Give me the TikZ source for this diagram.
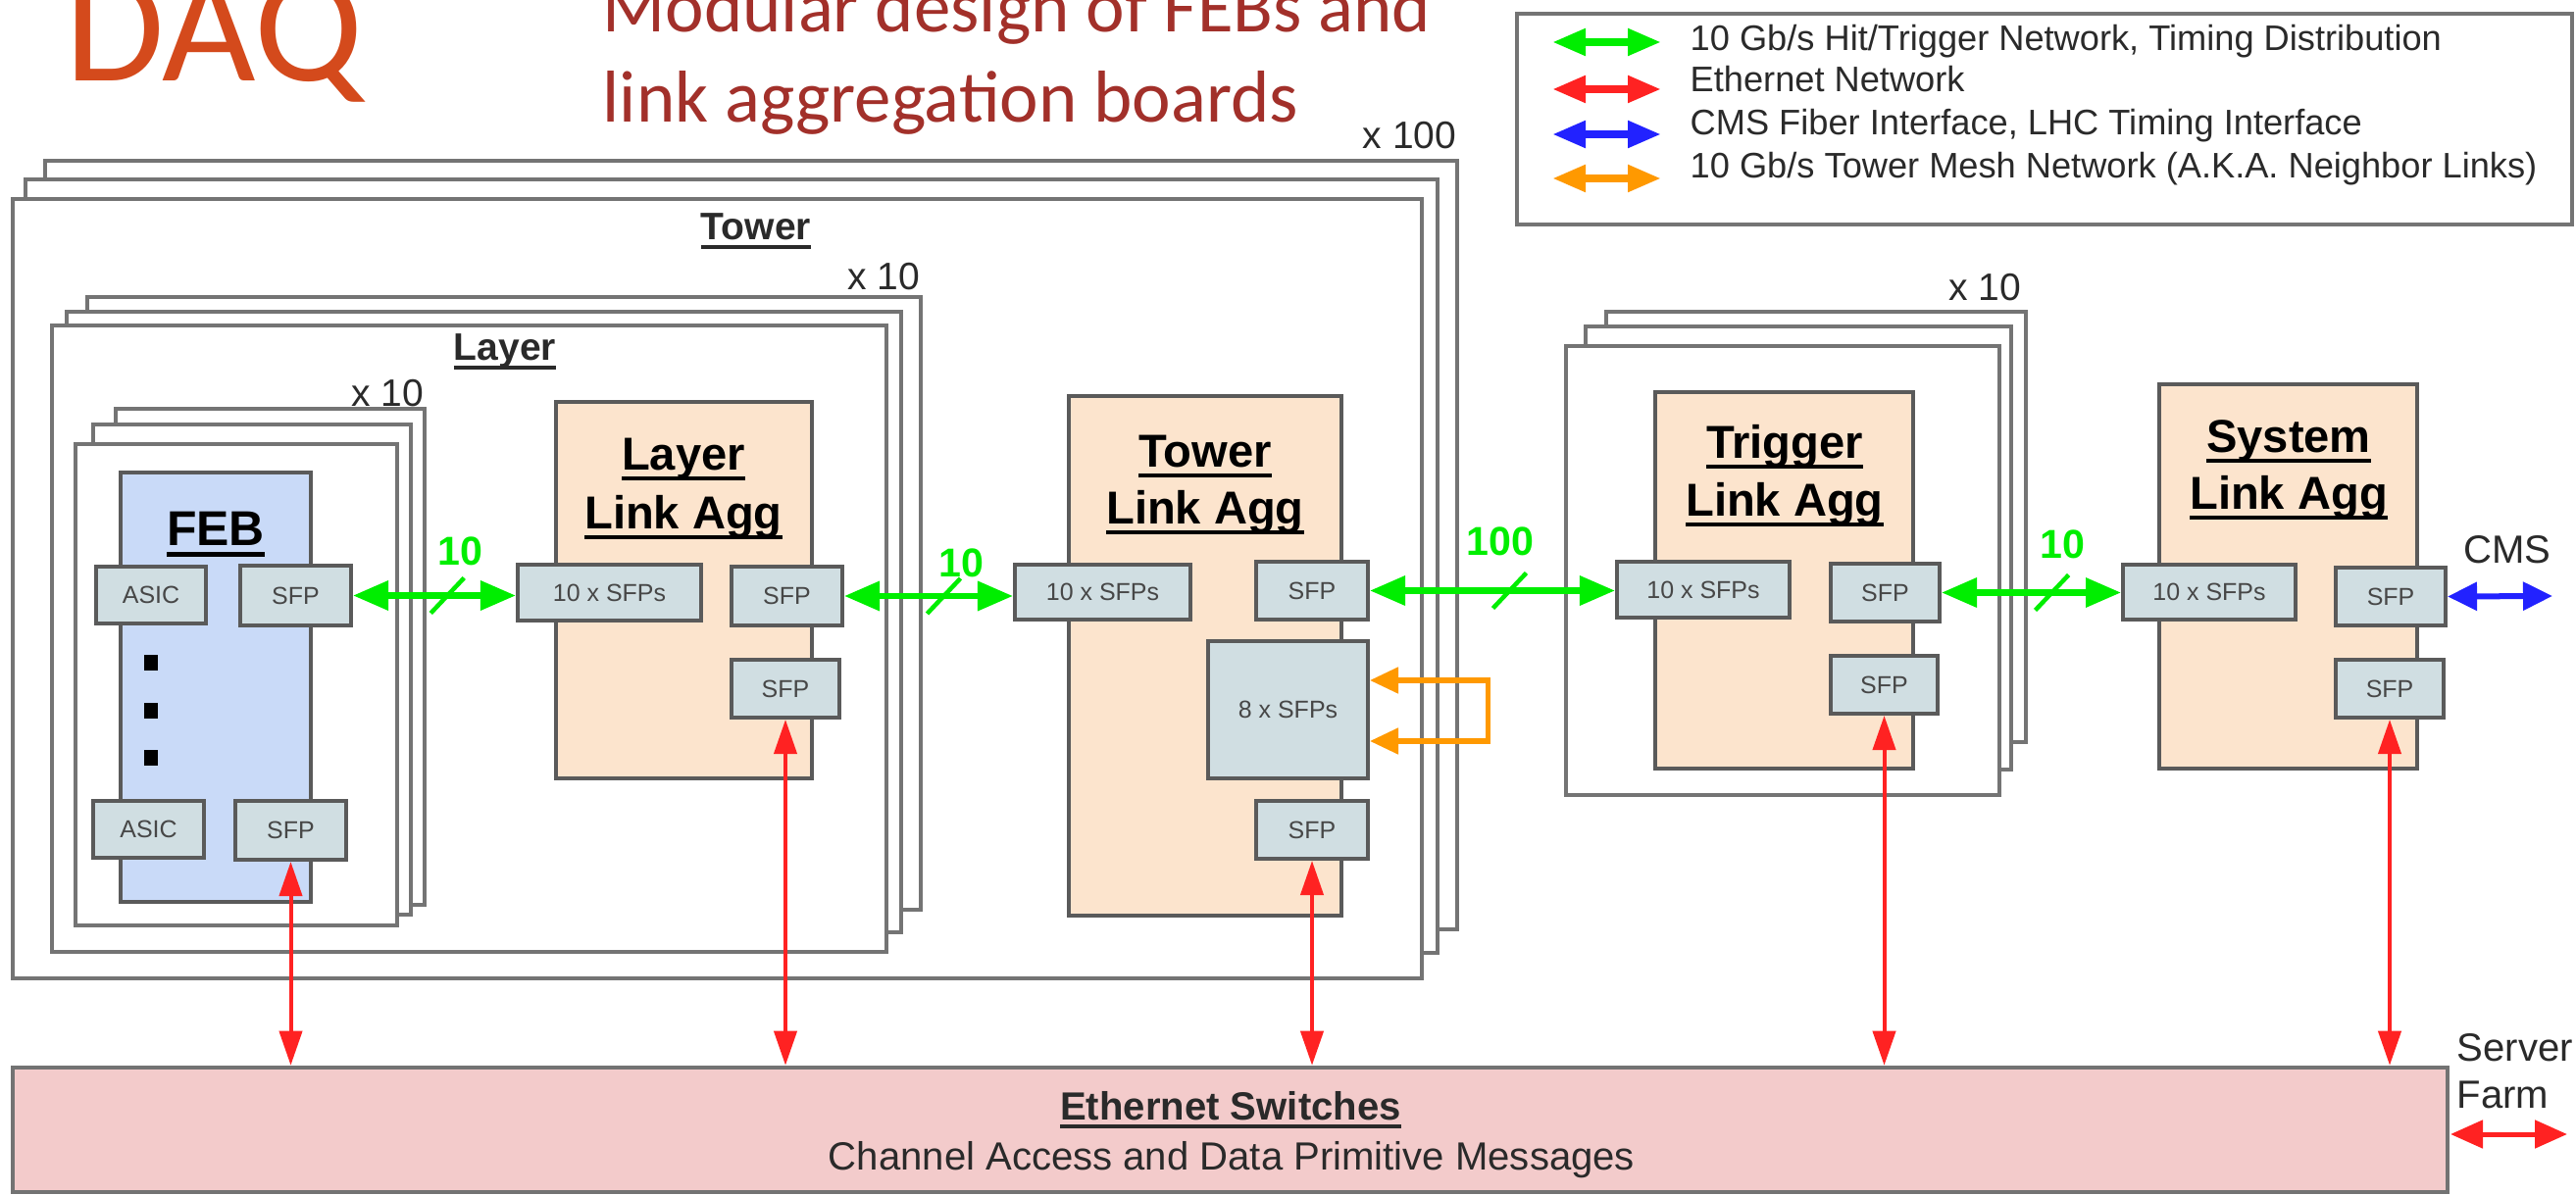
\documentclass[tikz,border=0pt]{standalone}
\usepackage{fontspec}
\setmainfont{Liberation Sans}
\newfontfamily\calib{Carlito}
\usetikzlibrary{arrows.meta,fit,calc}
\definecolor{daqorange}{HTML}{D44A1C}
\definecolor{titlered}{HTML}{A2302A}
\definecolor{lgreen}{HTML}{00EE00}
\definecolor{lred}{HTML}{FF2222}
\definecolor{lblue}{HTML}{2222FF}
\definecolor{lorange}{HTML}{FF9900}
\definecolor{aggfill}{HTML}{FCE4CD}
\definecolor{febfill}{HTML}{C9DAF8}
\definecolor{sfpfill}{HTML}{D0DEE2}
\definecolor{ethfill}{HTML}{F3CBCB}
\definecolor{framegray}{HTML}{747474}
\definecolor{boxgray}{HTML}{5A5A5A}
\definecolor{txtgray}{HTML}{2A2A2A}
\newcommand\ulb[1]{\setbox0\hbox{#1}\rlap{\rule[-0.22em]{\wd0}{0.09em}}\box0}
\tikzset{
  frm/.style={draw=framegray, line width=0.045cm, fill=white, inner sep=0pt},
  aggbox/.style={draw=boxgray, line width=0.04cm, fill=aggfill, inner sep=0pt},
  febbox/.style={draw=boxgray, line width=0.04cm, fill=febfill, inner sep=0pt},
  sfptext/.style={text=black!72, font=\fontsize{7.1}{8.5}\selectfont, inner sep=0pt},
  sfpbox/.style={draw=boxgray, line width=0.04cm, fill=sfpfill, inner sep=0pt, label={[sfptext]center:#1}},
  ethbox/.style={draw=boxgray!85, line width=0.045cm, fill=ethfill, inner sep=0pt},
  mult/.style={anchor=base east, text=txtgray, font=\fontsize{11.1}{13}\selectfont, inner sep=0pt},
  grouplbl/.style={anchor=base, text=txtgray, font=\bfseries\fontsize{11.1}{13}\selectfont, inner sep=0pt},
  aggtitle/.style={anchor=base, text=black, font=\bfseries\fontsize{13.4}{16}\selectfont, inner sep=0pt},
  numlbl/.style={anchor=base, text=lgreen, font=\bfseries\fontsize{11.7}{14}\selectfont, inner sep=0pt},
  plain/.style={text=txtgray, font=\fontsize{11.4}{13.5}\selectfont, inner sep=0pt},
  legtext/.style={anchor=base west, text=txtgray, font=\fontsize{10.3}{12}\selectfont, inner sep=0pt},
  garrow/.style={draw=lgreen, line width=0.065cm, >={Triangle[length=0.36cm,width=0.29cm]}, <->},
  gslash/.style={draw=lgreen, line width=0.045cm},
  rarrow/.style={draw=lred, line width=0.04cm, >={Triangle[length=0.35cm,width=0.23cm]}, <->},
  barrow/.style={draw=lblue, line width=0.06cm, >={Triangle[length=0.30cm,width=0.28cm]}, <->},
  oarrow/.style={draw=lorange, line width=0.05cm, >={Triangle[length=0.29cm,width=0.26cm]}, <->},
  legarrow/.style={line width=0.08cm, >={Triangle[length=0.34cm,width=0.26cm]}, <->},
  dot/.style={fill=black, minimum width=0.14cm, minimum height=0.16cm, inner sep=0pt}
}
\begin{document}
\begin{tikzpicture}[x=0.01cm, y=-0.01cm]
\useasboundingbox (0,0) rectangle (2627,1219);
\clip (0,0) rectangle (2627,1219);
\fill[white] (0,0) rectangle (2627,1219);

% titles
\node[anchor=base west, inner sep=0pt, text=daqorange, font=\calib\fontsize{46.9}{50}\selectfont] (daq) at (66,83) {DAQ};
\node[anchor=base west, inner sep=0pt, text=titlered, font=\calib\fontsize{21.3}{26}\selectfont] (title1) at (614,33) {Modular design of FEBs and};
\node[anchor=base west, inner sep=0pt, text=titlered, font=\calib\fontsize{21.3}{26}\selectfont] (title2) at (614,125) {link aggregation boards};

% legend
\node[draw=framegray, line width=0.045cm, fill=white, inner sep=0pt, fit={(1547,14) (2623,229)}] (legend) {};
\coordinate (lg1a) at (1583,43);  \coordinate (lg1b) at (1694,43);
\coordinate (lg2a) at (1583,91);  \coordinate (lg2b) at (1694,91);
\coordinate (lg3a) at (1583,137); \coordinate (lg3b) at (1694,137);
\coordinate (lg4a) at (1583,182); \coordinate (lg4b) at (1694,182);
\draw[legarrow, draw=lgreen, fill=lgreen] (lg1a) -- (lg1b);
\draw[legarrow, draw=lred, fill=lred] (lg2a) -- (lg2b);
\draw[legarrow, draw=lblue, fill=lblue] (lg3a) -- (lg3b);
\draw[legarrow, draw=lorange, fill=lorange] (lg4a) -- (lg4b);
\node[legtext] (lt1) at (1723,52) {10 Gb/s Hit/Trigger Network, Timing Distribution};
\node[legtext] (lt2) at (1723,94) {Ethernet Network};
\node[legtext] (lt3) at (1723,138) {CMS Fiber Interface, LHC Timing Interface};
\node[legtext] (lt4) at (1723,182) {10 Gb/s Tower Mesh Network (A.K.A. Neighbor Links)};

% tower stack
\node[frm, fit={(46,164) (1486,948)}] (towback) {};
\node[frm, fit={(26,183) (1466,972)}] (towmid) {};
\node[frm, fit={(13,203) (1450,998)}] (towfront) {};
\node[mult] (towx) at (1486,152) {x 100};
\node[grouplbl] (towlbl) at (771,245) {\ulb{Tower}};

% layer stack
\node[frm, fit={(89,303) (939,928)}] (layback) {};
\node[frm, fit={(68,318) (919,951)}] (laymid) {};
\node[frm, fit={(53,332) (904,971)}] (layfront) {};
\node[mult] (layx) at (939,296) {x 10};
\node[grouplbl] (laylbl) at (515,368) {\ulb{Layer}};

% FEB stack
\node[frm, fit={(118,417) (433,923)}] (febback) {};
\node[frm, fit={(95,433) (419,933)}] (febmid) {};
\node[frm, fit={(77,453) (405,944)}] (febfront) {};
\node[mult] (febx) at (433,415) {x 10};
\node[febbox, fit={(123,482) (317,920)}] (feb) {};
\node[anchor=base, inner sep=0pt, font=\bfseries\fontsize{14.2}{17}\selectfont] (feblbl) at (220,557) {\ulb{FEB}};
\node[sfpbox=ASIC, fit={(98,578) (210,636)}] (asic1) {};
\node[sfpbox=SFP, fit={(245,577) (358,638)}] (febsfp1) {};
\node[dot] (d1) at (154,676) {};
\node[dot] (d2) at (154,725) {};
\node[dot] (d3) at (154,773) {};
\node[sfpbox=ASIC, fit={(95,817) (208,875)}] (asic2) {};
\node[sfpbox=SFP, fit={(240,817) (353,877)}] (febsfp2) {};

% layer link agg
\node[aggbox, fit={(567,410) (828,794)}] (lla) {};
\node[aggtitle] (llat1) at (697,480) {\ulb{Layer}};
\node[aggtitle] (llat2) at (697,540) {\ulb{Link Agg}};
\node[sfpbox={10 x SFPs}, fit={(528,576) (715,633)}] (lsfps) {};
\node[sfpbox=SFP, fit={(746,578) (859,638)}] (lsfp1) {};
\node[sfpbox=SFP, fit={(746,673) (856,732)}] (lsfp2) {};

% tower link agg
\node[aggbox, fit={(1090,404) (1368,934)}] (tla) {};
\node[aggtitle] (tlat1) at (1229,477) {\ulb{Tower}};
\node[aggtitle] (tlat2) at (1229,535) {\ulb{Link Agg}};
\node[sfpbox={10 x SFPs}, fit={(1035,576) (1214,632)}] (tsfps) {};
\node[sfpbox=SFP, fit={(1281,573) (1395,632)}] (tsfp1) {};
\node[sfpbox={8 x SFPs}, fit={(1232,654) (1395,794)}] (t8) {};
\node[sfpbox=SFP, fit={(1281,817) (1395,876)}] (tsfp2) {};

% trigger stack
\node[frm, fit={(1638,318) (2066,757)}] (trigback) {};
\node[frm, fit={(1617,333) (2051,785)}] (trigmid) {};
\node[frm, fit={(1597,353) (2039,811)}] (trigfront) {};
\node[mult] (trigx) at (2062,307) {x 10};
\node[aggbox, fit={(1688,400) (1951,784)}] (gla) {};
\node[aggtitle] (glat1) at (1820,468) {\ulb{Trigger}};
\node[aggtitle] (glat2) at (1820,527) {\ulb{Link Agg}};
\node[sfpbox={10 x SFPs}, fit={(1649,573) (1825,630)}] (gsfps) {};
\node[sfpbox=SFP, fit={(1867,575) (1978,634)}] (gsfp1) {};
\node[sfpbox=SFP, fit={(1867,669) (1976,728)}] (gsfp2) {};

% system link agg
\node[aggbox, fit={(2202,392) (2465,784)}] (sla) {};
\node[aggtitle] (slat1) at (2334,462) {\ulb{System}};
\node[aggtitle] (slat2) at (2334,520) {\ulb{Link Agg}};
\node[sfpbox={10 x SFPs}, fit={(2165,576) (2341,632)}] (ssfps) {};
\node[sfpbox=SFP, fit={(2382,579) (2494,638)}] (ssfp1) {};
\node[sfpbox=SFP, fit={(2382,673) (2492,732)}] (ssfp2) {};

% ethernet
\node[ethbox, fit={(13,1089) (2496,1216)}] (eth) {};
\node[plain, anchor=base, font=\bfseries\fontsize{11.4}{13.5}\selectfont] (etht1) at (1255,1142) {\ulb{Ethernet Switches}};
\node[plain, anchor=base] (etht2) at (1256,1193) {Channel Access and Data Primitive Messages};

% green links
\draw[garrow] (febsfp1.east) -- coordinate[pos=0.58] (s1) (febsfp1.east -| lsfps.west);
\draw[garrow] (lsfp1.east) -- coordinate[pos=0.59] (s2) (lsfp1.east -| tsfps.west);
\draw[garrow] (tsfp1.east) -- coordinate[pos=0.57] (s3) (tsfp1.east -| gsfps.west);
\draw[garrow] (gsfp1.east) -- coordinate[pos=0.615] (s4) (gsfp1.east -| ssfps.west);
\draw[gslash] ($(s1)+(-17,18)$) -- ($(s1)+(17,-18)$);
\draw[gslash] ($(s2)+(-17,18)$) -- ($(s2)+(17,-18)$);
\draw[gslash] ($(s3)+(-17,18)$) -- ($(s3)+(17,-18)$);
\draw[gslash] ($(s4)+(-17,18)$) -- ($(s4)+(17,-18)$);
\node[numlbl] (n1) at (469,577) {10};
\node[numlbl] (n2) at (980,589) {10};
\node[numlbl] (n3) at (1530,567) {100};
\node[numlbl] (n4) at (2103,570) {10};

% CMS
\coordinate (cmsend) at (2603,608);
\draw[barrow] (ssfp1.east) -- (cmsend);
\node[plain, anchor=base] (cms) at (2557,575) {CMS};

% orange mesh loop
\coordinate (o1) at (1517,694);
\coordinate (o2) at (1517,756);
\draw[oarrow] (t8.east |- o1) -- (o1) -- (o2) -- (t8.east |- o2);

% red ethernet links
\draw[rarrow] (febsfp2.south) -- (febsfp2.south |- eth.north);
\draw[rarrow] (lsfp2.south) -- (lsfp2.south |- eth.north);
\draw[rarrow] (tsfp2.south) -- (tsfp2.south |- eth.north);
\draw[rarrow] (gsfp2.south) -- (gsfp2.south |- eth.north);
\draw[rarrow] (ssfp2.south) -- (ssfp2.south |- eth.north);

% server farm
\node[plain, anchor=base west] (srv1) at (2505,1082) {Server};
\node[plain, anchor=base west] (srv2) at (2505,1130) {Farm};
\coordinate (sfa) at (2499,1157);
\coordinate (sfb) at (2618,1157);
\draw[rarrow, line width=0.05cm, >={Triangle[length=0.33cm,width=0.28cm]}] (sfa) -- (sfb);
\end{tikzpicture}
\end{document}
